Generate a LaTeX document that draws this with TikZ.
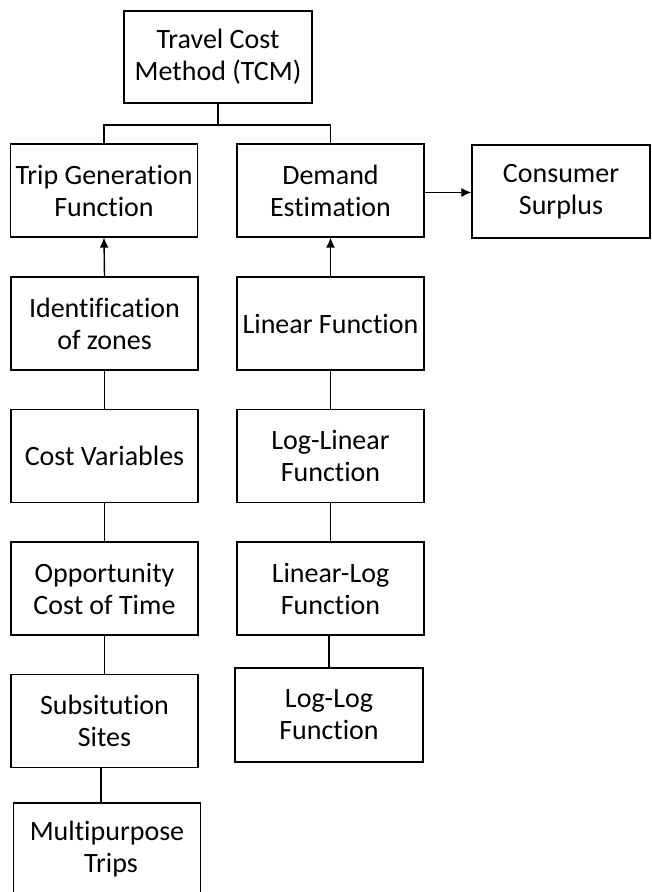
\documentclass[tikz,border=0pt]{standalone}
\usepackage{fontspec}
\setmainfont{Carlito}[Ligatures=NoCommon]
\usetikzlibrary{arrows.meta}

\begin{document}
\begin{tikzpicture}[x=1pt, y=-1pt, >={Latex[length=10pt,width=9pt]},
  every node/.style={font=\fontsize{28}{32}\selectfont},
  stepbox/.style={draw, line width=1.3pt, align=center, inner sep=0pt,
    minimum width=187pt, minimum height=93pt},
  link/.style={line width=1.4pt}]
\useasboundingbox (0,0) rectangle (651,892);
%==================== Top ==================
\node[stepbox, minimum width=188pt, minimum height=92pt] (tcm) at (218,57) {Travel Cost\\Method (TCM)};
\coordinate (split) at (218,125);
%==================== Left column ==================
\node[stepbox] (tripgen) at (104,190.5) {Trip Generation\\Function};
\node[stepbox] (zones) at (104.5,323.5) {Identification\\of zones};
\node[stepbox] (costvar) at (104.5,456) {Cost Variables};
\node[stepbox] (opptime) at (104.5,588.5) {Opportunity\\Cost of Time};
\node[stepbox] (subsites) at (104.5,721) {Subsitution\\Sites};
\node[stepbox, minimum height=92pt] (multitrips) at (107,849) {Multipurpose\\\hspace*{8pt}Trips};
%==================== Right column ==================
\node[stepbox] (demand) at (330.5,190.5) {Demand\\Estimation};
\node[stepbox] (linfun) at (330.5,323.5) {Linear Function};
\node[stepbox] (loglin) at (330.5,456) {Log-Linear\\Function};
\node[stepbox] (linlog) at (330.5,588.5) {Linear-Log\\Function};
\node[stepbox, minimum width=188pt, minimum height=94pt] (loglog) at (329,715) {Log-Log\\Function};
\node[stepbox, minimum width=178pt] (surplus) at (561,191.5) {Consumer\\Surplus};
%==================== Connectors ==================
\draw[link] (tcm.south) -- (split);
\draw[link] (tripgen.north) |- (split) -| (demand.north);
\draw[link, ->] (zones.north) -- (tripgen.south);
\draw[link] (costvar) -- (zones);
\draw[link] (opptime) -- (costvar);
\draw[link] (subsites) -- (opptime);
\draw[link] ([xshift=-3.5pt]subsites.south) -- ([xshift=-3.5pt]subsites.south |- multitrips.north);
\draw[link, ->] (linfun.north) -- (demand.south);
\draw[link] (loglin) -- (linfun);
\draw[link] (linlog) -- (loglin);
\draw[link] (loglog.north) -- (loglog.north |- linlog.south);
\draw[line width=0.9pt, ->] ([yshift=-2pt]demand.east) -- ([yshift=-2pt]demand.east -| surplus.west);
\end{tikzpicture}
\end{document}
